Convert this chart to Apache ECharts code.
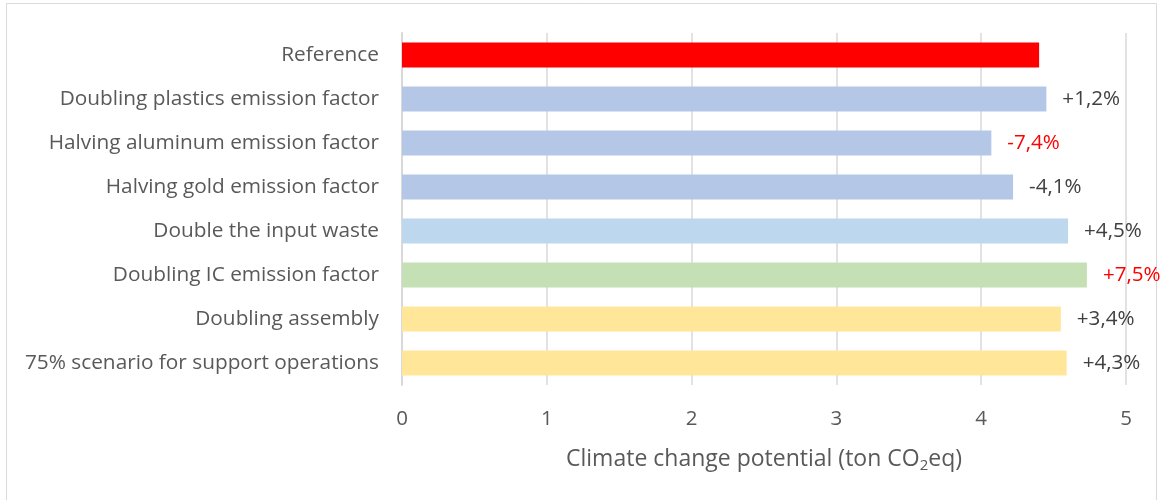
<!DOCTYPE html>
<html>
<head>
<meta charset="utf-8">
<script src="https://cdn.jsdelivr.net/npm/echarts@6/dist/echarts.min.js"></script>
<style>
  html, body { margin: 0; padding: 0; background: #ffffff; }
  #chart { width: 1162px; height: 500px; }
</style>
</head>
<body>
<div id="chart"></div>
<script>
// Scenario names, top to bottom
const categories = [
  'Reference',
  'Doubling plastics emission factor',
  'Halving aluminum emission factor',
  'Halving gold emission factor',
  'Double the input waste',
  'Doubling IC emission factor',
  'Doubling assembly',
  '75% scenario for support operations'
];
// Climate change potential per scenario (ton CO2eq)
const values = [4.40, 4.45, 4.07, 4.22, 4.60, 4.73, 4.55, 4.59];
// Change relative to the reference scenario
const changeLabels = ['', '+1,2%', '-7,4%', '-4,1%', '+4,5%', '+7,5%', '+3,4%', '+4,3%'];
// Value axis ticks
const xTicks = [0, 1, 2, 3, 4, 5];

// Bar fills; the largest changes get red labels
const barColors = ['#ff0000', '#b4c7e7', '#b4c7e7', '#b4c7e7', '#bdd7ee', '#c5e0b4', '#ffe699', '#ffe699'];
const highlighted = ['-7,4%', '+7,5%'];

const FONT = 'Open Sans';
const chart = echarts.init(document.getElementById('chart'));

chart.setOption({
  animation: false,
  backgroundColor: '#ffffff',
  graphic: [{
    type: 'rect',
    shape: { x: 6.5, y: 3.5, width: 1150, height: 520 },
    style: { fill: 'none', stroke: '#d9d9d9', lineWidth: 1 },
    silent: true,
    z: -1
  }],
  grid: { left: 402, right: 36, top: 33, bottom: 115, containLabel: false },
  xAxis: {
    type: 'value',
    min: xTicks[0],
    max: xTicks[xTicks.length - 1],
    interval: 1,
    axisLine: { show: false },
    axisTick: { show: false },
    splitLine: { show: true, lineStyle: { color: '#d9d9d9', width: 1.5 } },
    axisLabel: {
      color: '#595959', fontFamily: FONT, fontSize: 20.5, margin: 24,
      formatter: v => String(v)
    },
    name: '{t|Climate change potential (ton CO}{s|2}{t|eq)}',
    nameLocation: 'middle',
    nameGap: 61,
    nameTextStyle: {
      rich: {
        t: { color: '#595959', fontFamily: FONT, fontSize: 23 },
        s: { color: '#595959', fontFamily: FONT, fontSize: 15, padding: [12, 0, 0, 0] }
      }
    }
  },
  yAxis: {
    type: 'category',
    data: categories,
    inverse: true,
    axisLine: { show: true, lineStyle: { color: '#d9d9d9', width: 2 } },
    axisTick: { show: false },
    axisLabel: { color: '#595959', fontFamily: FONT, fontSize: 20.8, margin: 23 }
  },
  series: [{
    type: 'bar',
    data: values.map((v, i) => ({
      value: v,
      itemStyle: { color: barColors[i] },
      label: { color: highlighted.includes(changeLabels[i]) ? '#ff0000' : '#404040' }
    })),
    barWidth: '57%',
    label: {
      show: true,
      position: 'right',
      distance: 16,
      fontFamily: FONT,
      fontSize: 20.6,
      formatter: p => changeLabels[p.dataIndex]
    }
  }]
});
</script>
</body>
</html>
